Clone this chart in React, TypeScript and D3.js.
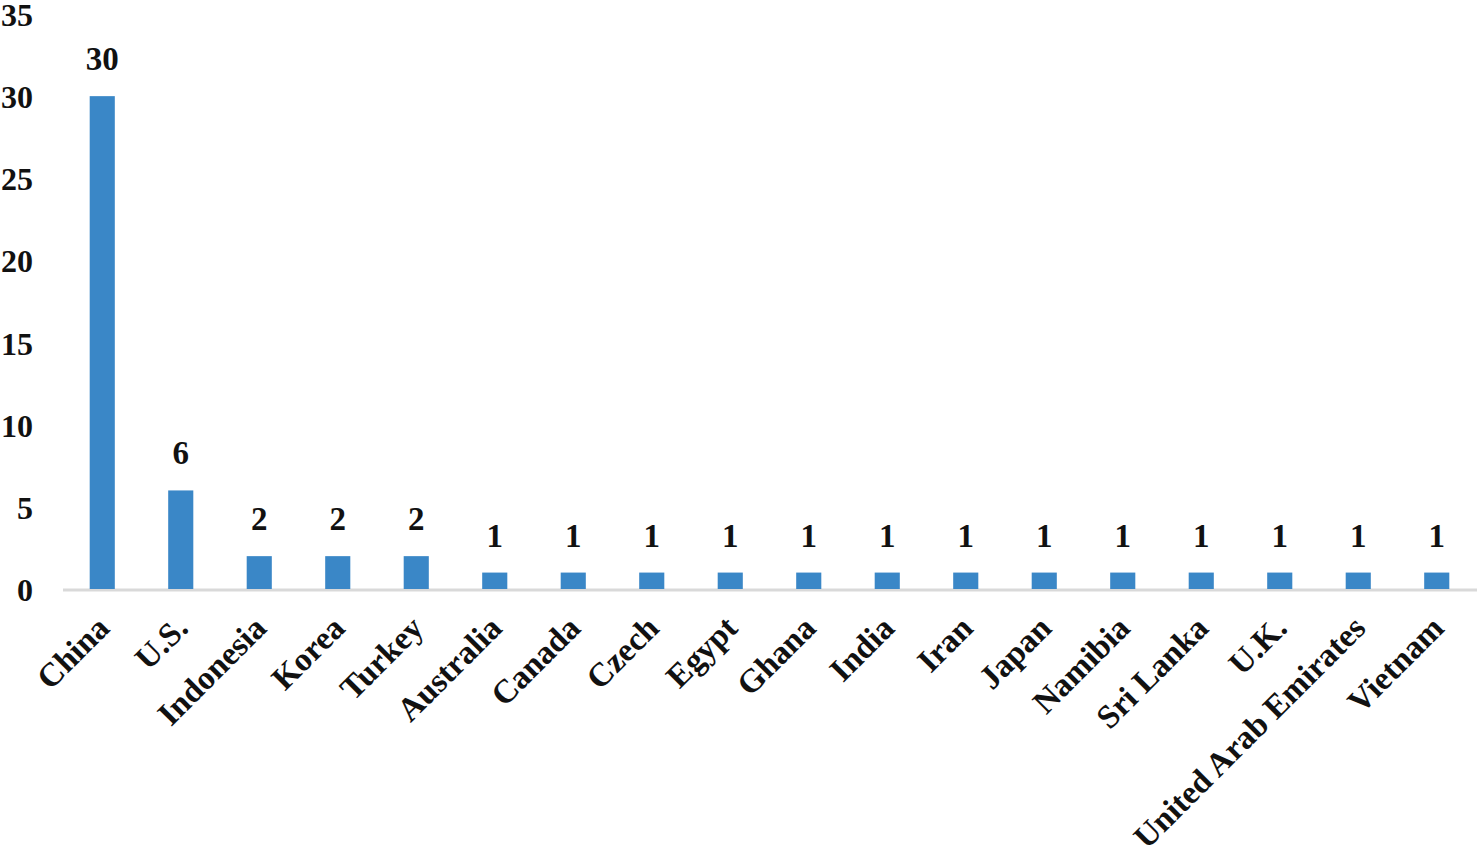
import React from "react";
import * as d3 from "d3";

const categories = ["China", "U.S.", "Indonesia", "Korea", "Turkey", "Australia", "Canada", "Czech", "Egypt", "Ghana", "India", "Iran", "Japan", "Namibia", "Sri Lanka", "U.K.", "United Arab Emirates", "Vietnam"];
const values = [30, 6, 2, 2, 2, 1, 1, 1, 1, 1, 1, 1, 1, 1, 1, 1, 1, 1];
const yTicks = [0, 5, 10, 15, 20, 25, 30, 35];

const W = 1479;
const H = 858;
const FONT = "'Liberation Serif', 'Times New Roman', serif";

export default function App() {
  const x = d3.scaleBand<string>().domain(categories).range([63, 1476]).paddingInner(0.68).paddingOuter(0.34);
  const y = d3.scaleLinear().domain([0, 35]).range([589, 14]);
  const bw = x.bandwidth();
  return (
    <svg width={W} height={H} style={{ position: "absolute", left: 0, top: 0, background: "#fff" }} fontFamily={FONT} fontWeight="bold">
      {yTicks.map((t) => (
        <text key={t} x={33} y={y(t) + 12} textAnchor="end" fontSize={32} fill="#111">{t}</text>
      ))}
      <line x1={63} x2={1477} y1={y(0) + 1} y2={y(0) + 1} stroke="#d9d9d9" strokeWidth={3} />
      {categories.map((c, i) => (
        <g key={c}>
          <rect x={x(c)!} y={y(values[i])} width={bw} height={y(0) - y(values[i])} fill="#3a87c7" />
          <text x={x(c)! + bw / 2} y={y(values[i]) - 26} textAnchor="middle" fontSize={33} fill="#111">{values[i]}</text>
          <text transform={`translate(${x(c)! + bw / 2 + 9},${630}) rotate(-45)`} textAnchor="end" fontSize={33} fill="#111">{c}</text>
        </g>
      ))}
    </svg>
  );
}
